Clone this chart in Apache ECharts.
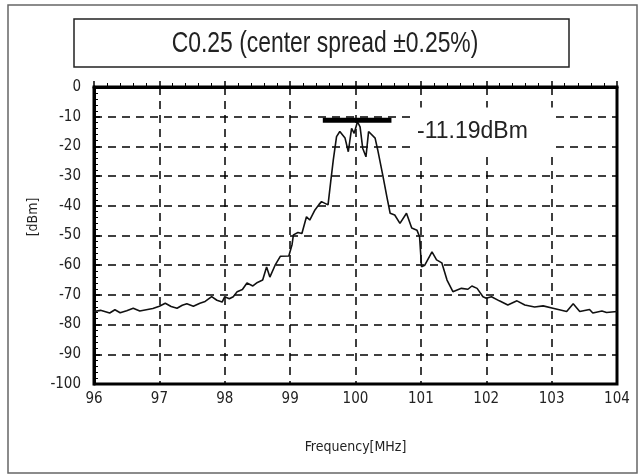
<!DOCTYPE html>
<html>
<head>
<meta charset="utf-8">
<script src="https://cdn.jsdelivr.net/npm/echarts@6/dist/echarts.min.js"></script>
<style>
    html,body{margin:0;padding:0;background:#fff;}
    .echart{width:638px;height:475px;}
</style>
</head>
<body>
<div class="echart" id="Echarts"></div>
<script>
    // spectrum trace
    const freq = [96.0,96.1,96.24,96.32,96.4,96.5,96.6,96.7,96.8,96.9,97.0,97.09,97.18,97.27,97.35,97.42,97.52,97.62,97.7,97.8,97.88,97.96,98.0,98.07,98.13,98.19,98.27,98.34,98.43,98.5,98.58,98.64,98.69,98.77,98.85,98.98,99.03,99.05,99.12,99.18,99.25,99.3,99.38,99.44,99.48,99.58,99.62,99.66,99.71,99.76,99.84,99.89,99.94,99.98,100.03,100.07,100.11,100.16,100.2,100.3,100.34,100.42,100.48,100.53,100.6,100.68,100.78,100.86,100.94,100.98,101.01,101.06,101.17,101.24,101.32,101.4,101.49,101.62,101.72,101.78,101.86,101.95,102.0,102.08,102.2,102.33,102.47,102.59,102.74,102.87,103.02,103.23,103.33,103.43,103.58,103.63,103.77,103.84,104.0]
    const level = [-75.6,-75.2,-76.1,-75,-76,-75.3,-74.5,-75.4,-75,-74.6,-73.8,-72.8,-73.9,-74.5,-73.5,-73,-73.8,-72.8,-72.2,-70.6,-71.8,-72.4,-70.6,-71.3,-70.6,-68.9,-68.2,-66,-67,-65.8,-65,-60.6,-64,-60,-57,-56.9,-53,-49.8,-49,-49.3,-43.7,-44.8,-41.4,-39.6,-38.6,-39.7,-32,-24.6,-16.7,-15,-17.2,-21.8,-13.9,-15.6,-11.7,-13.4,-20.6,-23.5,-15,-17.2,-21.2,-30,-37,-42.5,-43.1,-45.9,-42.5,-47.5,-48.2,-50.4,-60.5,-60,-55.5,-58.2,-59.2,-65,-68.9,-67.8,-68.1,-67,-67.8,-70.6,-71.1,-70.6,-72,-73.4,-72,-73.4,-74.1,-73.7,-74.5,-75.6,-73,-75.6,-74.9,-76.1,-75.4,-75.9,-75.6]
    // peak marker bar
    const markerFreq = [99.5,100.55]
    const markerLevel = [-11.19,-11.19]
    const xTicks = [96,97,98,99,100,101,102,103,104]
    const yTicks = [0,-10,-20,-30,-40,-50,-60,-70,-80,-90,-100]

    const condensed = '"DejaVu Sans Condensed","Liberation Sans Narrow","Liberation Sans",sans-serif'
    let chartInstance = echarts.init(document.getElementById('Echarts'))

    const traceData = freq.map((f,i) => [f,level[i]])
    const markerData = markerFreq.map((f,i) => [f,markerLevel[i]])

    function axisCommon(){
        return {
            axisLine:{show:true,lineStyle:{color:'#000',width:3}},
            axisTick:{show:true,inside:true,length:6,lineStyle:{color:'#000',width:1.5}},
            minorTick:{show:true,splitNumber:5,length:4,lineStyle:{color:'#000',width:1}},
            splitLine:{show:true,lineStyle:{color:'#000',width:1.5,type:[8,6]}},
            axisLabel:{color:'#222',fontFamily:condensed,fontSize:15}
        }
    }

    const option = {
        animation:false,
        backgroundColor:'#fff',
        grid:{
            left:94,
            top:87,
            width:523,
            height:297,
            show:true,
            borderColor:'#000',
            borderWidth:3
        },
        xAxis:Object.assign(axisCommon(),{
            type:'value',
            min:xTicks[0],
            max:xTicks[xTicks.length - 1],
            interval:1,
            name:'Frequency[MHz]',
            nameLocation:'middle',
            nameGap:56,
            nameTextStyle:{color:'#222',fontFamily:condensed,fontSize:14}
        }),
        yAxis:Object.assign(axisCommon(),{
            type:'value',
            min:yTicks[yTicks.length - 1],
            max:yTicks[0],
            interval:10,
            axisLabel:{color:'#222',fontFamily:condensed,fontSize:15,margin:13}
        }),
        graphic:[
            {
                type:'rect',
                shape:{x:8,y:5,width:629,height:468},
                style:{fill:'none',stroke:'#666',lineWidth:1.5},
                silent:true
            },
            {
                type:'rect',
                shape:{x:74,y:19,width:495,height:48},
                style:{fill:'#fff',stroke:'#222',lineWidth:1.5},
                silent:true
            },
            {
                type:'text',
                x:325,
                y:44,
                scaleX:0.79,
                style:{
                    text:'C0.25 (center spread \u00b10.25%)',
                    fontFamily:'"Liberation Sans",Arial,sans-serif',
                    fontSize:29,
                    fill:'#222',
                    align:'center',
                    verticalAlign:'middle'
                },
                silent:true
            },
            {
                type:'text',
                x:33,
                y:217,
                rotation:Math.PI / 2,
                style:{
                    text:'[dBm]',
                    fontFamily:condensed,
                    fontSize:14,
                    fill:'#222',
                    align:'center',
                    verticalAlign:'middle'
                },
                silent:true
            },
            {
                type:'text',
                x:411,
                y:132,
                z:100,
                style:{
                    text:'-11.19dBm',
                    fontFamily:'"Liberation Sans",Arial,sans-serif',
                    fontSize:23,
                    fill:'#222',
                    align:'left',
                    verticalAlign:'middle',
                    backgroundColor:'#fff',
                    padding:[13,28,13,6]
                },
                silent:true
            }
        ],
        series:[
            {
                type:'line',
                data:traceData,
                showSymbol:false,
                smooth:false,
                lineStyle:{color:'#111',width:1.6},
                z:5
            },
            {
                type:'line',
                data:markerData,
                showSymbol:false,
                lineStyle:{color:'#000',width:5},
                z:6
            }
        ]
    }
    chartInstance.setOption(option)
</script>
</body>
</html>
